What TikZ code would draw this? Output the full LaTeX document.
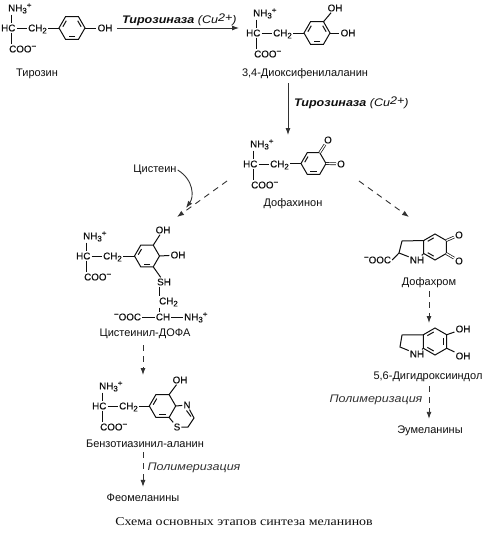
\documentclass[tikz,border=0pt]{standalone}
\usepackage{fontspec}
\setmainfont{Liberation Sans}
\newfontfamily\esticada[FakeStretch=1.14]{Liberation Sans}
\newfontfamily\legenda[FakeStretch=1.16]{Liberation Serif}
\newfontfamily\atomica[FakeBold=0.35]{Liberation Sans}
\usepackage{xcolor}
\definecolor{tinta}{RGB}{15,15,15}
\definecolor{cinza}{RGB}{50,50,50}
\usetikzlibrary{arrows.meta,calc}
\newcommand{\baixo}[1]{\raisebox{-2pt}{\fontsize{8}{8}\selectfont #1}}
\newcommand{\alto}[1]{\raisebox{3.5pt}{\fontsize{8}{8}\selectfont #1}}
\newcommand{\anel}[5]{%
  \coordinate (#1) at (#2,#3);
  \foreach \i in {1,...,6}{\coordinate (#1\i) at ($(#1)+(#5+\i*60-60:#4)$);}
  \draw[ligacao] (#11)--(#12)--(#13)--(#14)--(#15)--(#16)--cycle;
}
\newcommand{\dupla}[3]{%
  \draw[ligacao,shorten <=1.5pt,shorten >=1.5pt] ($(#1)!.76!(#1#2)$)--($(#1)!.76!(#1#3)$);
}
\newcommand{\cadeia}[4]{%
  \node[atomo] (#1nh) at (#2+7,#3+11.4) {NH\baixo{3}\alto{+}};
  \node[atomo] (#1hc) at (#2,#3+31.4) {HC};
  \node[atomo] (#1ch) at (#2+27,#3+31.4) {CH\baixo{2}};
  \node[atomo] (#1coo) at (#2+8,#3+52.4) {COO\alto{−}};
  \coordinate (#1c) at (#2+11,#3+28);
  \draw[ligacao] (#1c |- #1nh.south)--(#1c |- #1hc.north);
  \draw[ligacao] (#1c |- #1hc.south)--(#1c |- #1coo.north);
  \draw[ligacao] (#1hc.east)--(#1hc.east -| #1ch.west);
  \draw[ligacao] (#4 -| #1ch.east)--(#4);
}
\begin{document}
\begin{tikzpicture}[x=1pt,y=-1pt,
    atomo/.style={inner sep=1pt,anchor=base west,text=tinta,font=\atomica\fontsize{9.8}{10}\selectfont},
    livre/.style={inner sep=1pt,text=tinta,font=\atomica\fontsize{9.8}{10}\selectfont},
    nome/.style={inner sep=1pt,text=tinta,font=\fontsize{11}{12}\selectfont},
    enzima/.style={inner sep=0pt,anchor=west,text=tinta,font=\fontsize{11}{12}\selectfont},
    polim/.style={inner sep=0pt,text=cinza,font=\esticada\itshape\fontsize{11}{12}\selectfont},
    ligacao/.style={tinta,line width=1pt},
    dupla2/.style={tinta,line width=0.7pt,double,double distance=1.3pt},
    seta/.style={-{Latex[length=7pt,width=5pt]},cinza,line width=0.9pt},
    setatrac/.style={seta,dash pattern=on 6pt off 5pt}
  ]
  \useasboundingbox (0,0) rectangle (485,533);

  \anel{tyr}{72}{28}{13}{0}
  \dupla{tyr}{4}{5}\dupla{tyr}{2}{3}\dupla{tyr}{6}{1}
  \cadeia{t}{0}{0}{tyr4}
  \node[livre] (tyrOH) at (105,28) {OH};
  \draw[ligacao] (tyr1)--(tyrOH);
  \node[nome] (tyrNome) at (37,74) {Тирозин};

  \anel{dopa}{317}{33}{13}{0}
  \dupla{dopa}{4}{5}\dupla{dopa}{2}{3}\dupla{dopa}{6}{1}
  \cadeia{d}{245}{5}{dopa4}
  \node[livre] (dopaOHa) at (335,8) {OH};
  \node[livre] (dopaOHb) at (348,33) {OH};
  \draw[ligacao] (dopa6)--(dopaOHa);
  \draw[ligacao] (dopa1)--(dopaOHb);
  \node[nome] (dopaNome) at (305,74) {3,4-Диоксифенилаланин};

  \anel{dq}{313.5}{163.5}{12.5}{0}
  \dupla{dq}{4}{5}\dupla{dq}{2}{3}
  \cadeia{q}{242}{136}{dq4}
  \node[livre] (dqOa) at (328,140) {O};
  \node[livre] (dqOb) at (341,164) {O};
  \draw[dupla2] (dq6)--(dqOa);
  \draw[dupla2] (dq1)--(dqOb);
  \node[nome] (dqNome) at (293,204) {Дофахинон};

  \node[nome] (cisNome) at (155,170) {Цистеин};

  \anel{cd}{147}{256}{12.5}{0}
  \dupla{cd}{4}{5}\dupla{cd}{2}{3}
  \cadeia{c}{75}{228}{cd4}
  \node[livre] (cdOHa) at (163,230) {OH};
  \node[livre] (cdOHb) at (178,255) {OH};
  \node[livre] (cdSH) at (164,282) {SH};
  \node[atomo] (cdCH) at (158,304.4) {CH\baixo{2}};
  \node[livre] (cdCHb) at (163,317) {CH};
  \node[livre] (cdOOC) at (127.5,317) {\alto{−}OOC};
  \node[atomo] (cdNH) at (183,320.4) {NH\baixo{3}\alto{+}};
  \draw[ligacao] (cd6)--(cdOHa);
  \draw[ligacao] (cd1)--(cdOHb);
  \draw[ligacao] (cd2)--(cdSH);
  \coordinate (cdX) at (159,300);
  \draw[ligacao] (cdX |- cdSH.south)--(cdX |- cdCH.north);
  \draw[ligacao] (cdX |- cdCH.south)--(cdX |- cdCHb.north);
  \draw[ligacao] (cdOOC.east)--(cdCHb.west);
  \draw[ligacao] (cdCHb.east)--(cdCHb.east -| cdNH.west);
  \node[nome] (cdNome) at (145,334) {Цистеинил-ДОФА};

  \anel{bz}{162.5}{406}{13.2}{0}
  \dupla{bz}{4}{5}\dupla{bz}{2}{3}
  \cadeia{b}{91}{378}{bz4}
  \node[livre] (bzOH) at (180,380) {OH};
  \node[livre] (bzN) at (187,405) {N};
  \node[livre] (bzS) at (177,427) {S};
  \coordinate (bzA) at (188,427);
  \coordinate (bzB) at (194,418);
  \draw[ligacao] (bz6)--(bzOH);
  \draw[ligacao] (bz1)--(bzN);
  \draw[ligacao] (bzN)--(bzB)--(bzA)--(bzS)--(bz2);
  \draw[ligacao] ($(bzN)+(-0.5,5.5)$)--($(bzB)+(-3,-1.5)$);
  \node[nome] (bzNome) at (145,444) {Бензотиазинил-аланин};
  \node[nome] (feoNome) at (143,498) {Феомеланины};
  \node[polim] (polimA) at (194,468) {Полимеризация};

  \anel{dc}{435}{247}{13}{30}
  \dupla{dc}{2}{3}\dupla{dc}{4}{5}
  \coordinate (dcA) at (402,241);
  \coordinate (dcB) at (399,253);
  \node[livre] (dcNH) at (417,260) {NH};
  \node[livre] (dcOOC) at (377.5,260) {\alto{−}OOC};
  \node[livre] (dcOa) at (459,235) {O};
  \node[livre] (dcOb) at (459,261) {O};
  \draw[ligacao] (dc4)--(dcA)--(dcB)--(dcNH)--(dc3);
  \draw[ligacao] (dcOOC.east)--(dcB);
  \draw[dupla2] (dc6)--(dcOa);
  \draw[dupla2] (dc1)--(dcOb);
  \node[nome] (dcNome) at (429,283) {Дофахром};

  \anel{di}{435}{341.5}{13.5}{30}
  \dupla{di}{2}{3}\dupla{di}{4}{5}\dupla{di}{6}{1}
  \coordinate (diA) at (402,335);
  \coordinate (diB) at (400,347);
  \node[livre] (diNH) at (417,354) {NH};
  \node[livre] (diOHa) at (463,329) {OH};
  \node[livre] (diOHb) at (463,356) {OH};
  \draw[ligacao] (di4)--(diA)--(diB)--(diNH)--(di3);
  \draw[ligacao] (di6)--(diOHa);
  \draw[ligacao] (di1)--(diOHb);
  \node[nome] (diNome) at (428,377) {5,6-Дигидроксииндол};
  \node[nome] (eumNome) at (430,431) {Эумеланины};
  \node[polim] (polimB) at (376,400) {Полимеризация};

  \node[enzima] (enzA) at (122,20) {\esticada\bfseries\itshape Тирозиназа\ \mdseries (Cu\raisebox{2.5pt}{2+})};
  \node[enzima] (enzB) at (294,103) {\esticada\bfseries\itshape Тирозиназа\ \mdseries (Cu\raisebox{2.5pt}{2+})};
  \node[inner sep=0pt,text=tinta,font=\legenda\fontsize{12}{13}\selectfont] (legendaTxt) at (244,522) {Схема основных этапов синтеза меланинов};

  \coordinate (dopaIn) at (239,28);
  \coordinate (dqIn) at (288,135);
  \coordinate (dqEsq) at (227,181);
  \coordinate (dqDir) at (359,181);
  \coordinate (cdIn) at (177,217);
  \coordinate (dcIn) at (409,217);
  \coordinate (cisIn) at (186,208);
  \coordinate (diIn) at (429,323);
  \coordinate (cdOut) at (143,345);
  \coordinate (bzIn) at (143,375);

  \draw[seta] (tyrOH.east -| 117,0)--(dopaIn);
  \draw[seta,shorten <=3pt] (dqIn |- dopaNome.south)--(dqIn);
  \draw[setatrac] (dqEsq)--(cdIn);
  \draw[setatrac] (dqDir)--(dcIn);
  \draw[seta] (cisNome.east) .. controls (194,180) and (194,197) .. (cisIn);
  \draw[setatrac] (cdOut)--(bzIn);
  \draw[setatrac,shorten <=2pt] (dcNome.south)--(diIn);
  \draw[setatrac,shorten <=3pt,shorten >=6pt] (diNome.south -| diIn)--(eumNome.north -| diIn);
  \draw[setatrac,shorten <=3pt,shorten >=6pt] (bzNome.south -| feoNome.north)--(feoNome.north);
\end{tikzpicture}
\end{document}
